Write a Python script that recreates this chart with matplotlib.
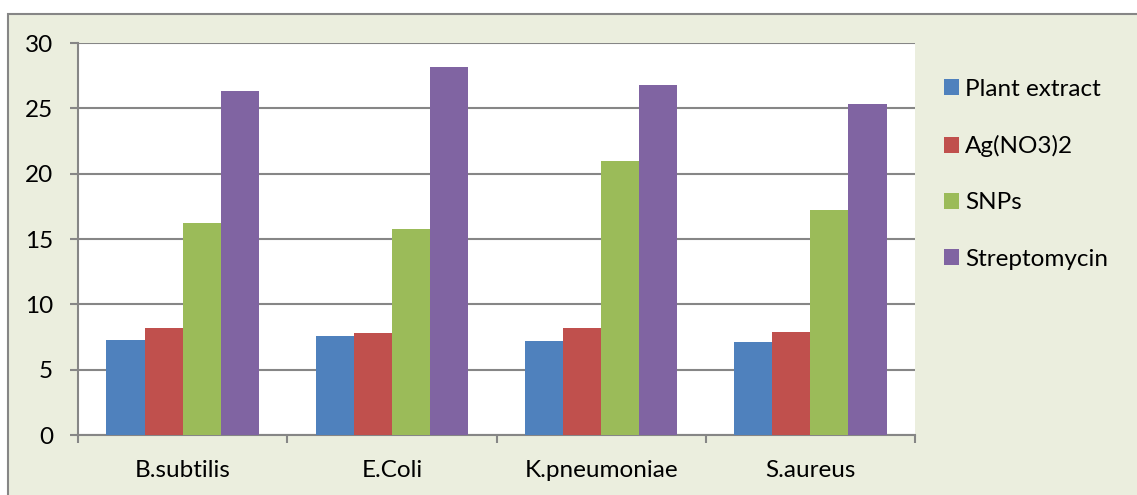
import numpy as np
import matplotlib.pyplot as plt
from matplotlib.patches import Rectangle, Patch

plt.rcParams['font.family'] = ['Lato', 'DejaVu Sans']

# data
categories = ['B.subtilis', 'E.Coli', 'K.pneumoniae', 'S.aureus']
series_names = ['Plant extract', 'Ag(NO3)2', 'SNPs', 'Streptomycin']
plant_extract = [7.3, 7.6, 7.2, 7.1]
ag_no3 = [8.2, 7.8, 8.2, 7.9]
snps = [16.2, 15.8, 21.0, 17.2]
streptomycin = [26.3, 28.2, 26.8, 25.3]
colors = ['#4F81BD', '#C0504D', '#9BBB59', '#8064A2']

grey = '#868686'
bg = '#EBEEDE'
fs = 17.5

fig = plt.figure(figsize=(11.37, 4.95), dpi=100)
fig.patch.set_facecolor('white')
# chart area background with grey border (left/top visible only)
fig.patches.append(Rectangle((8 / 1137, -0.1), 1.2, 1.1 - 14 / 495,
                             transform=fig.transFigure, facecolor=bg,
                             edgecolor=grey, linewidth=1.5, zorder=-10))

ax = fig.add_axes([78 / 1137, 1 - 435 / 495, (915 - 78) / 1137, (435 - 43) / 495])
ax.set_facecolor('white')

x = np.arange(len(categories))
w = 0.182
all_series = [plant_extract, ag_no3, snps, streptomycin]
for i, (vals, c, name) in enumerate(zip(all_series, colors, series_names)):
    ax.bar(x + (i - 1.5) * w, vals, width=w, color=c, label=name,
           edgecolor='none', zorder=3)

ax.set_xlim(-0.5, len(categories) - 0.5)
ax.set_ylim(0, 30)
ax.set_yticks(range(0, 31, 5))
ax.yaxis.grid(True, color=grey, linewidth=1.5, zorder=0)
ax.set_axisbelow(True)

for s in ['top', 'right']:
    ax.spines[s].set_visible(False)
for s in ['left', 'bottom']:
    ax.spines[s].set_color(grey)
    ax.spines[s].set_linewidth(1.5)

ax.set_xticks(x)
ax.set_xticklabels(categories)
ax.set_xticks(np.arange(-0.5, len(categories)), minor=True)
ax.tick_params(axis='x', which='major', length=0, pad=18, labelsize=fs)
ax.tick_params(axis='x', which='minor', length=6, width=1.5, color=grey)
ax.tick_params(axis='y', length=6, width=1.5, color=grey, pad=12, labelsize=fs)

handles = [Patch(facecolor=c, label=n) for c, n in zip(colors, series_names)]
fig.legend(handles=handles, loc='upper left',
           bbox_to_anchor=(922 / 1137, 1 - 57 / 495), frameon=False,
           fontsize=fs, handlelength=0.62, handleheight=0.62,
           handletextpad=0.25, labelspacing=1.45)

fig.savefig('out.png', dpi=100, facecolor=fig.get_facecolor())
